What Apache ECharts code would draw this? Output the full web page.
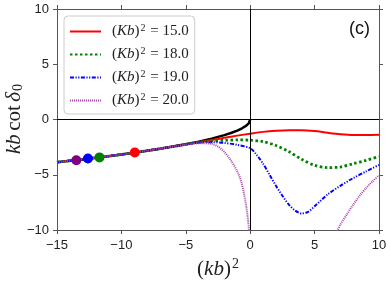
<!DOCTYPE html>
<html><head><meta charset="utf-8">
<script src="https://cdn.jsdelivr.net/npm/echarts@6/dist/echarts.min.js"></script>
<style>html,body{margin:0;padding:0;background:#fff}#c{width:390px;height:281px}</style>
</head><body><div id="c"></div>
<script>
// ---- data ----
const xTicks = [-15, -10, -5, 0, 5, 10];
const yTicks = [-10, -5, 0, 5, 10];
const legendLabels = ['15.0', '18.0', '19.0', '20.0'];

const blackX = [-15,-14,-13,-12,-11,-10,-9,-8,-7,-6,-5,-4,-3,-2,-1.5,-1,-0.6,-0.3,-0.1,-0.02,0];
const blackY = [-3.87,-3.74,-3.61,-3.46,-3.32,-3.16,-3.0,-2.83,-2.65,-2.45,-2.24,-2.0,-1.73,-1.41,-1.22,-1.0,-0.77,-0.55,-0.32,-0.14,0];

const redX = [-15,-12,-9,-6,-4,-3,-2,-1,0,1,2,3,4,5,6,7,8,9,10];
const redY = [-3.86,-3.45,-3.0,-2.45,-2.05,-1.86,-1.66,-1.46,-1.28,-1.12,-1.02,-0.97,-0.97,-1.05,-1.2,-1.33,-1.4,-1.4,-1.38];

const greenX = [-15,-12,-9,-6,-5,-4,-3,-2,-1,0,1,2,3,4,5,6,7,8,9,10];
const greenY = [-3.86,-3.46,-3.0,-2.45,-2.25,-2.07,-1.95,-1.88,-1.85,-1.87,-2.0,-2.35,-2.9,-3.6,-4.15,-4.35,-4.3,-4.0,-3.7,-3.35];

const blueX = [-15,-12,-9,-6,-5,-4,-3,-2,-1,0,0.5,1,1.5,2,2.5,3,3.5,4,4.5,5,6,7,8,9,10];
const blueY = [-3.86,-3.46,-3.0,-2.45,-2.25,-2.1,-2.05,-2.12,-2.3,-2.6,-3.2,-4.0,-5.0,-6.0,-6.9,-7.7,-8.25,-8.5,-8.35,-7.85,-6.8,-6.0,-5.3,-4.7,-4.1];

const purpleLX = [-15,-12,-9,-6,-5,-4,-3,-2.5,-2,-1.5,-1,-0.7,-0.5,-0.3,-0.15,-0.08];
const purpleLY = [-3.86,-3.46,-3.0,-2.45,-2.27,-2.15,-2.2,-2.45,-2.95,-3.7,-4.7,-5.6,-6.6,-7.9,-9.3,-10.3];
const purpleRX = [6.7,7,7.5,8,8.5,9,9.5,10];
const purpleRY = [-10.3,-9.5,-8.6,-7.7,-6.9,-6.2,-5.6,-5.05];

const boundX = [-8.96, -11.7, -12.6, -13.5];
const boundY = [-2.99, -3.43, -3.53, -3.68];

// ---- build ----
const zip = (a, b) => a.map((v, i) => [v, b[i]]);
const minus = v => String(v).replace('-', '\u2212');
const colors = ['#ff0000', '#008000', '#0000ff', '#a848a8'];
const dotColors = ['#ff0000', '#008000', '#0000ff', '#800080'];
const names = legendLabels.map(v => 'K' + v);

const serif = 'Liberation Serif';
const sans = 'Liberation Sans';
const txt = '#222';

const series = [
  { type: 'line', data: zip(blackX, blackY), symbol: 'none', silent: true, z: 2,
    lineStyle: { color: '#000', width: 2.5 },
    markLine: { silent: true, symbol: 'none', label: { show: false },
      lineStyle: { color: '#000', width: 1, type: 'solid' },
      data: [{ xAxis: 0 }, { yAxis: 0 }] } },
  { name: names[0], type: 'line', data: zip(redX, redY), symbol: 'none', smooth: 0.3, z: 3,
    lineStyle: { color: colors[0], width: 2 }, itemStyle: { color: colors[0] } },
  { name: names[1], type: 'line', data: zip(greenX, greenY), symbol: 'none', smooth: 0.3, z: 3,
    lineStyle: { color: colors[1], width: 2.8, type: [2.5, 2.5] }, itemStyle: { color: colors[1] } },
  { name: names[2], type: 'line', data: zip(blueX, blueY), symbol: 'none', smooth: 0.3, z: 3,
    lineStyle: { color: colors[2], width: 2, type: [4, 1.5, 1.2, 1.5, 1.2, 1.5] }, itemStyle: { color: colors[2] } },
  { name: names[3], type: 'line', data: zip(purpleLX, purpleLY), symbol: 'none', smooth: 0.3, z: 3,
    lineStyle: { color: colors[3], width: 2, type: [1, 1] }, itemStyle: { color: colors[3] } },
  { name: names[3], type: 'line', data: zip(purpleRX, purpleRY), symbol: 'none', smooth: 0.3, z: 3,
    lineStyle: { color: colors[3], width: 2, type: [1, 1] }, itemStyle: { color: colors[3] } },
  { type: 'scatter', data: zip(boundX, boundY), symbolSize: 10, z: 5,
    itemStyle: { color: p => dotColors[p.dataIndex], opacity: 1 } }
];

const axisLineStyle = { color: '#555', width: 1 };
const chart = echarts.init(document.getElementById('c'), null, { renderer: 'canvas' });
chart.setOption({
  animation: false,
  backgroundColor: '#fff',
  grid: { left: 57, right: 11, top: 9, bottom: 51, containLabel: false, outerBoundsMode: 'none' },
  title: { text: '(c)', right: 15, top: 15,
    textStyle: { fontFamily: sans, fontSize: 18, fontWeight: 'normal', color: '#111' } },
  graphic: [{
    type: 'text', x: 14, y: 119, rotation: Math.PI / 2, z: 10,
    style: {
      text: '{i|kb} {p|cot} {i|\u03b4}{b|0}', align: 'center', verticalAlign: 'middle',
      rich: {
        p: { fontFamily: serif, fontSize: 21, fill: txt },
        i: { fontFamily: serif, fontSize: 21, fontStyle: 'italic', fill: txt },
        b: { fontFamily: serif, fontSize: 14, fill: txt, padding: [9, 0, 0, 1] }
      }
    }
  }],
  legend: {
    data: names, left: 64, top: 16, orient: 'vertical',
    padding: [7, 6, 6, 5], itemGap: 7, itemWidth: 31, itemHeight: 15,
    backgroundColor: '#fff', borderColor: '#ccc', borderWidth: 1, borderRadius: 4,
    itemStyle: { opacity: 0 },
    formatter: n => {
      const v = legendLabels[names.indexOf(n)];
      return '{p|(}{i|Kb}{p|)}{s|2}{p| = ' + v + '}';
    },
    textStyle: {
      fontFamily: serif, fontSize: 15, color: txt, padding: [0, 0, 0, 6],
      rich: {
        p: { fontFamily: serif, fontSize: 15, color: txt },
        i: { fontFamily: serif, fontSize: 15, fontStyle: 'italic', color: txt },
        s: { fontFamily: serif, fontSize: 10, color: txt, padding: [0, 1, 7, 1] }
      }
    }
  },
  xAxis: [
    { type: 'value', min: -15, max: 10, interval: 5, position: 'bottom',
      splitLine: { show: false },
      axisLine: { show: true, onZero: false, lineStyle: axisLineStyle },
      axisTick: { show: true, length: 4, lineStyle: axisLineStyle },
      axisLabel: { fontFamily: sans, fontSize: 13, color: txt, margin: 9,
        formatter: v => xTicks.includes(v) ? minus(v) : '' },
      name: '{p|(}{i|kb}{p|)}{s|2}', nameLocation: 'middle', nameGap: 27,
      nameTextStyle: { rich: {
        p: { fontFamily: serif, fontSize: 21, color: txt },
        i: { fontFamily: serif, fontSize: 21, fontStyle: 'italic', color: txt },
        s: { fontFamily: serif, fontSize: 14, color: txt, padding: [0, 0, 10, 1] } } } },
    { type: 'value', min: -15, max: 10, interval: 5, position: 'top',
      splitLine: { show: false }, axisLabel: { show: false },
      axisLine: { show: true, onZero: false, lineStyle: axisLineStyle },
      axisTick: { show: true, length: 4, lineStyle: axisLineStyle } }
  ],
  yAxis: [
    { type: 'value', min: -10, max: 10, interval: 5, position: 'left',
      splitLine: { show: false },
      axisLine: { show: true, onZero: false, lineStyle: axisLineStyle },
      axisTick: { show: true, length: 4, lineStyle: axisLineStyle },
      axisLabel: { fontFamily: sans, fontSize: 13, color: txt, margin: 8,
        formatter: v => yTicks.includes(v) ? minus(v) : '' } },
    { type: 'value', min: -10, max: 10, interval: 5, position: 'right',
      splitLine: { show: false }, axisLabel: { show: false },
      axisLine: { show: true, onZero: false, lineStyle: axisLineStyle },
      axisTick: { show: true, length: 4, lineStyle: axisLineStyle } }
  ],
  series: series
});
</script></body></html>
